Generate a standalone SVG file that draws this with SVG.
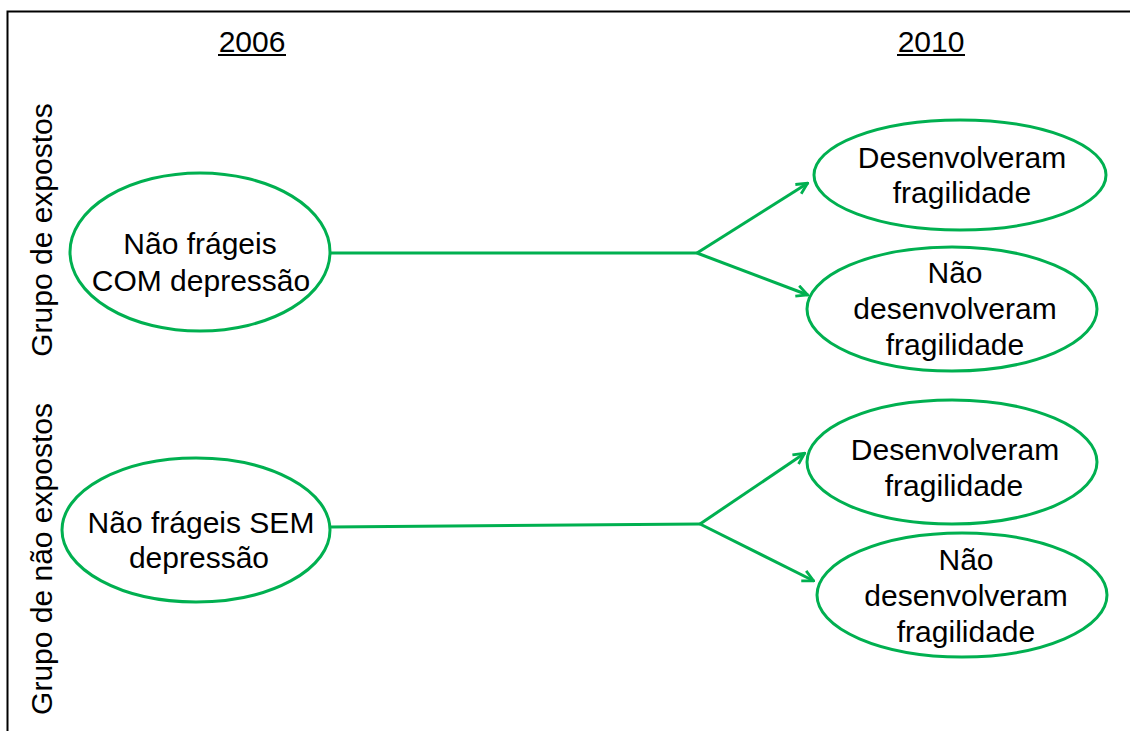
<svg xmlns="http://www.w3.org/2000/svg" width="1130" height="731" viewBox="0 0 1130 731">
<defs>
<style>
.t{font-family:"Liberation Sans",Arial,sans-serif;font-size:30px;fill:#000;text-anchor:middle}
.n{fill:#fff;stroke:#00B050;stroke-width:3}
.c{fill:none;stroke:#00B050;stroke-width:3}
</style>
<marker id="ah" viewBox="0 0 14 14" refX="13" refY="7" markerWidth="14" markerHeight="14" markerUnits="userSpaceOnUse" orient="auto">
<path d="M1.5,1.5 L12.5,7 L1.5,12.5" fill="none" stroke="#00B050" stroke-width="2.8"/>
</marker>
</defs>
<rect x="0" y="0" width="1130" height="731" fill="#fff"/>
<path d="M7.5,731 V11.5 H1130" fill="none" stroke="#000" stroke-width="2"/>
<g id="headers">
<text class="t" x="252" y="52">2006</text>
<line x1="218" y1="55" x2="286" y2="55" stroke="#000" stroke-width="2"/>
<text class="t" x="931" y="52">2010</text>
<line x1="897" y1="55" x2="965" y2="55" stroke="#000" stroke-width="2"/>
</g>
<g id="labels">
<text class="t" transform="translate(52,230) rotate(-90)">Grupo de expostos</text>
<text class="t" transform="translate(52,559) rotate(-90)">Grupo de não expostos</text>
</g>
<g id="connectors">
<path class="c" d="M330,253 H697"/>
<path class="c" d="M697,253 L808,183" marker-end="url(#ah)"/>
<path class="c" d="M697,253 L808,295" marker-end="url(#ah)"/>
<path class="c" d="M330,527 L700,524"/>
<path class="c" d="M700,524 L805,453" marker-end="url(#ah)"/>
<path class="c" d="M700,524 L814,581" marker-end="url(#ah)"/>
</g>
<g id="n1">
<ellipse class="n" cx="200" cy="252" rx="130" ry="79"/>
<text class="t" x="200" y="254">Não frágeis</text>
<text class="t" x="201" y="291">COM depressão</text>
</g>
<g id="n2">
<ellipse class="n" cx="960" cy="175" rx="146" ry="55"/>
<text class="t" x="962" y="168">Desenvolveram</text>
<text class="t" x="962" y="203">fragilidade</text>
</g>
<g id="n3">
<ellipse class="n" cx="952" cy="309" rx="145" ry="62"/>
<text class="t" x="955" y="283">Não</text>
<text class="t" x="955" y="319">desenvolveram</text>
<text class="t" x="955" y="355">fragilidade</text>
</g>
<g id="n4">
<ellipse class="n" cx="196" cy="530" rx="134" ry="72"/>
<text class="t" x="201" y="533">Não frágeis SEM</text>
<text class="t" x="199" y="568">depressão</text>
</g>
<g id="n5">
<ellipse class="n" cx="952" cy="462" rx="145" ry="62"/>
<text class="t" x="955" y="460">Desenvolveram</text>
<text class="t" x="954" y="496">fragilidade</text>
</g>
<g id="n6">
<ellipse class="n" cx="962" cy="595" rx="145" ry="62"/>
<text class="t" x="966" y="570">Não</text>
<text class="t" x="966" y="606">desenvolveram</text>
<text class="t" x="966" y="642">fragilidade</text>
</g>
</svg>
